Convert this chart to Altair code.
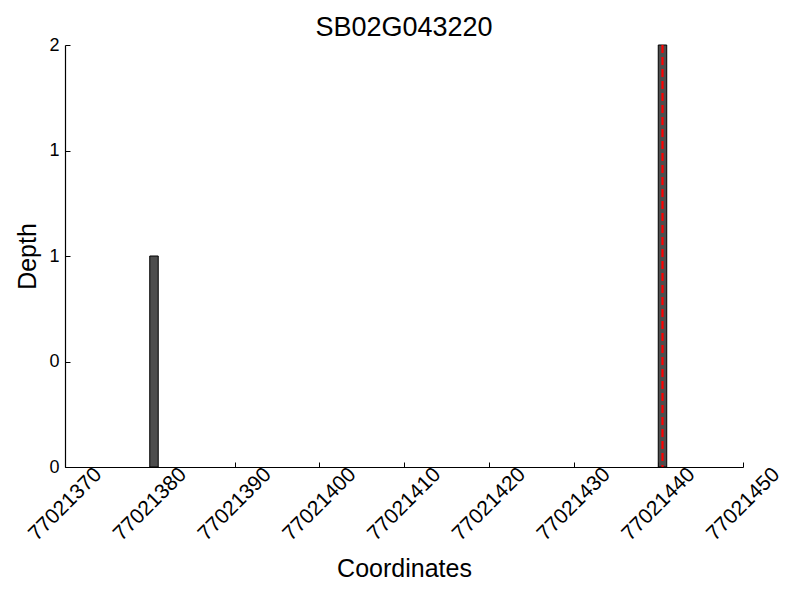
import altair as alt
import pandas as pd

# Data
starts = [77021380, 77021440]
ends = [77021381, 77021441]
depth = [1, 2]
marker_pos = [77021440.5]
marker_top = [2]
x_ticks = [77021370, 77021380, 77021390, 77021400, 77021410, 77021420, 77021430, 77021440, 77021450]
y_ticks = [0, 0.5, 1, 1.5, 2]

bars_df = pd.DataFrame({"start": starts, "end": ends, "depth": depth, "base": [0] * len(depth)})
line_df = pd.DataFrame({"pos": marker_pos, "top": marker_top, "bottom": [0]})

FONT = "Liberation Sans"
xscale = alt.Scale(domain=[77021370, 77021450], nice=False, zero=False)
yscale = alt.Scale(domain=[0, 2], nice=False)

x_main = alt.Axis(orient="bottom", values=x_ticks, format="d", labelAngle=-45, labelAlign="center",
                  labelBaseline="middle", labelFontSize=21, labelFont=FONT, labelColor="black",
                  title="Coordinates", titleFontSize=25, titleFont=FONT, titleFontWeight="normal",
                  titleColor="black", titlePadding=12,
                  ticks=False, grid=False, domainColor="black", domainWidth=1.2,
                  labelPadding=37, labelOverlap=False, labelFlush=False)
y_main = alt.Axis(orient="left", values=y_ticks, labelExpr="floor(datum.value)", labelFontSize=18,
                  labelFont=FONT, labelColor="black", title="Depth", titleFontSize=25, titleFont=FONT,
                  titleFontWeight="normal", titleColor="black", titlePadding=8,
                  ticks=False, grid=False, domainColor="black", domainWidth=1.2,
                  labelPadding=6, labelFlush=False)

bars = alt.Chart(bars_df).mark_bar(color="#4d4d4d", stroke="black", strokeWidth=1).encode(
    x=alt.X("start:Q", scale=xscale, axis=x_main),
    x2="end:Q",
    y=alt.Y("depth:Q", scale=yscale, axis=y_main),
    y2="base:Q",
)

x_ticks_axis = alt.Axis(orient="bottom", values=x_ticks, labels=False, domain=False, grid=False,
                        title=None, ticks=True, tickSize=5, tickColor="black", tickWidth=1, offset=-5)
y_ticks_axis = alt.Axis(orient="left", values=y_ticks, labels=False, domain=False, grid=False,
                        title=None, ticks=True, tickSize=5, tickColor="black", tickWidth=1, offset=-5)

line = alt.Chart(line_df).mark_rule(color="#ff0000", strokeWidth=2.2, strokeDash=[8, 4]).encode(
    x=alt.X("pos:Q", scale=xscale, axis=x_ticks_axis),
    y=alt.Y("top:Q", scale=yscale, axis=y_ticks_axis),
    y2="bottom:Q",
)

chart = alt.layer(bars, line).resolve_axis(x="independent", y="independent").properties(
    width=678, height=422,
    title=alt.Title("SB02G043220", fontSize=27, font=FONT, fontWeight="normal", color="black", offset=-6),
    autosize=alt.AutoSizeParams(type="none"),
    padding={"left": 57, "top": 37, "right": 49, "bottom": 125},
).configure_view(stroke=None)

chart.save("out.html", embed_options={"renderer": "svg", "actions": False})
